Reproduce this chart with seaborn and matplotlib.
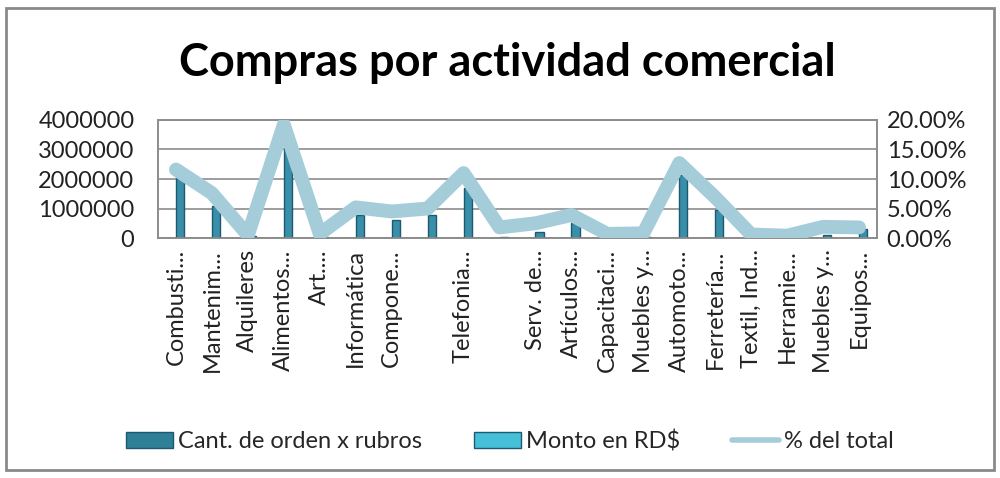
import numpy as np
import pandas as pd
import seaborn as sns
import matplotlib.pyplot as plt
from matplotlib.patches import Patch, Rectangle
from matplotlib.lines import Line2D
from matplotlib.ticker import FuncFormatter

# categories (truncated labels as shown in the chart, two are blank)
categories = ["Combusti...", "Mantenim...", "Alquileres", "Alimentos...", "Art....",
              "Informática", "Compone...", "", "Telefonia...", "",
              "Serv. de...", "Artículos...", "Capacitaci...", "Muebles y...", "Automoto...",
              "Ferretería...", "Textil, Ind...", "Herramie...", "Muebles y...", "Equipos..."]

# Cant. de orden x rubros (too small to see on this scale)
cantidad = [310, 180, 25, 420, 12, 95, 140, 60, 85, 30,
            40, 70, 10, 15, 150, 160, 8, 12, 20, 35]

# Monto en RD$
monto = [2030000, 1100000, 60000, 3050000, 40000, 770000, 600000, 770000, 1690000, 50000,
         200000, 500000, 30000, 40000, 2130000, 940000, 20000, 15000, 100000, 300000]

# % del total
porcentaje = [11.6, 7.6, 0.5, 19.2, 0.7, 5.2, 4.5, 5.0, 11.0, 1.8,
              2.5, 3.9, 0.7, 0.8, 12.7, 6.9, 0.6, 0.4, 1.9, 1.8]

series_names = ["Cant. de orden x rubros", "Monto en RD$"]

sns.set_style("white")
plt.rcParams['font.family'] = ['Lato', 'DejaVu Sans']

# unique keys so blank labels don't collapse
keys = [f"c{i}" for i in range(len(categories))]
df = pd.DataFrame({
    'cat': keys * 2,
    'valor': cantidad + monto,
    'serie': [series_names[0]] * len(keys) + [series_names[1]] * len(keys),
})

fig = plt.figure(figsize=(10, 4.78), dpi=100)
ax = fig.add_axes([0.158, 0.502, 0.719, 0.247])

sns.barplot(data=df, x='cat', y='valor', hue='serie', order=keys, hue_order=series_names,
            palette=['#2f7f97', '#2797bb'], width=0.45, ax=ax, legend=False,
            edgecolor='#1b5a70', linewidth=1.0, zorder=3)

ax.set_ylim(0, 4000000)
ax.set_yticks([0, 1000000, 2000000, 3000000, 4000000])
ax.yaxis.set_major_formatter(FuncFormatter(lambda v, p: f"{int(v)}"))
ax.grid(axis='y', color='#8c8c8c', linewidth=1.2, zorder=0)
ax.set_axisbelow(True)
ax.set_xlabel('')
ax.set_ylabel('')
ax.set_xticks(range(len(categories)))
ax.set_xticklabels(categories, rotation=90, ha='center', va='top')
ax.tick_params(axis='x', length=0, pad=8, labelsize=17, colors='#222222')
ax.tick_params(axis='y', length=0, pad=17, labelsize=17, colors='#222222')
for s in ax.spines.values():
    s.set_color('#8c8c8c')
    s.set_linewidth(1.2)

ax2 = ax.twinx()
sns.lineplot(x=np.arange(len(categories)), y=porcentaje, ax=ax2, color='#a5cdd9',
             linewidth=10, solid_joinstyle='round', solid_capstyle='round', zorder=5)
ax2.set_ylim(0, 20)
ax2.set_yticks([0, 5, 10, 15, 20])
ax2.yaxis.set_major_formatter(FuncFormatter(lambda v, p: f"{v:.2f}%"))
ax2.tick_params(axis='y', length=0, pad=7, labelsize=17, colors='#222222')
ax2.set_xlim(-0.5, len(categories) - 0.5)
for s in ax2.spines.values():
    s.set_color('#8c8c8c')
    s.set_linewidth(1.2)

fig.text(0.507, 0.868, "Compras por actividad comercial", ha='center', va='center',
         fontsize=32.5, fontweight='bold', color='black')

handles = [Patch(facecolor='#2f7f97', edgecolor='#1b5a70'),
           Patch(facecolor='#46bfd9', edgecolor='#1b5a70'),
           Line2D([0], [0], color='#a5cdd9', linewidth=4)]
fig.legend(handles, series_names + ["% del total"], loc='center', bbox_to_anchor=(0.51, 0.077),
           ncol=3, frameon=False, fontsize=17, handlelength=2.0, handleheight=0.7,
           handletextpad=0.2, columnspacing=2.2)

fig.patches.append(Rectangle((0.006, 0.017), 0.988, 0.966, transform=fig.transFigure,
                             fill=False, edgecolor='#8a8a8a', linewidth=2))

fig.savefig('out.png', dpi=100)
